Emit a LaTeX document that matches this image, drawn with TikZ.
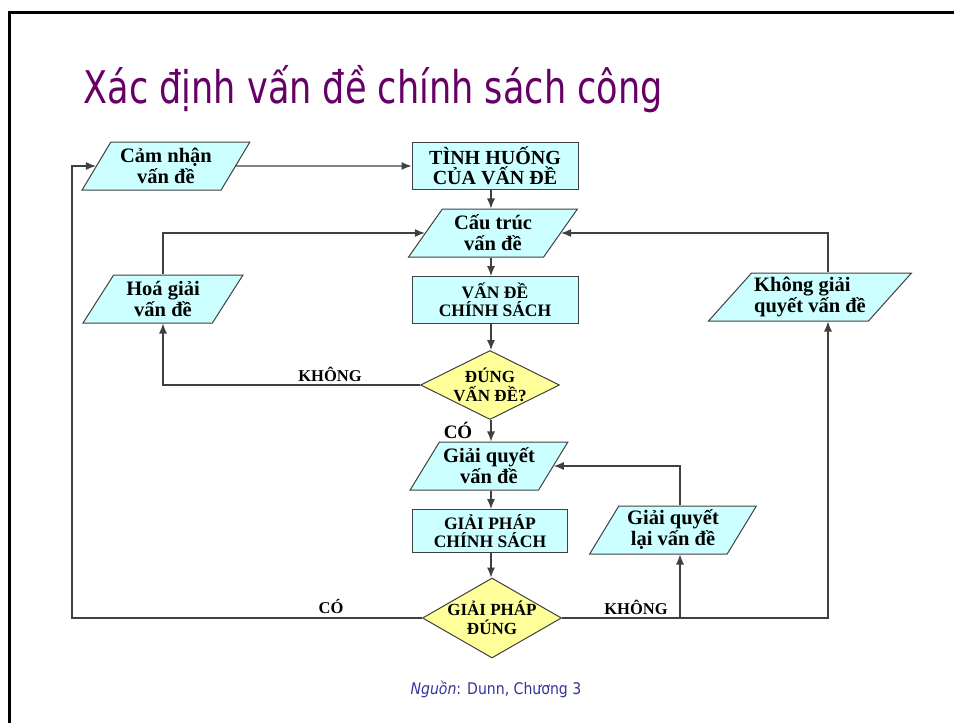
\documentclass[tikz,border=0pt]{standalone}
\usepackage{fontspec}
\setmainfont{Liberation Serif}
\newfontfamily\titlefont[FakeStretch=0.78]{DejaVu Sans}
\newfontfamily\srcfont[FakeStretch=0.88]{DejaVu Sans}
\usetikzlibrary{arrows.meta, shapes.geometric, positioning}
\definecolor{boxcyan}{HTML}{CCFFFF}
\definecolor{diayellow}{HTML}{FFFF99}
\definecolor{titlepurple}{HTML}{660066}
\definecolor{srcblue}{HTML}{333399}
\tikzset{>={Latex[length=10pt,width=8pt]}}

\begin{document}
\begin{tikzpicture}[x=1pt,y=-1pt,
    line/.style={draw=black!75, line width=1.1pt},
    pgram/.style={trapezium, trapezium left angle=57, trapezium right angle=123,
        trapezium stretches=true, draw=black!75, line width=1pt, fill=boxcyan,
        font=\bfseries\fontsize{20.5}{21}\selectfont, align=center,
        inner sep=1pt, minimum height=48pt},
    rectbox/.style={draw=black!75, line width=1pt, fill=boxcyan,
        minimum width=166pt, minimum height=47pt, inner sep=1pt,
        font=\bfseries\fontsize{17.5}{18}\selectfont, align=center},
    decision/.style={diamond, draw=black!75, line width=1pt, fill=diayellow,
        minimum width=139pt, inner sep=0pt},
    dectext/.style={font=\bfseries\fontsize{17}{18.5}\selectfont, align=center},
    answer/.style={font=\bfseries\fontsize{16.5}{18}\selectfont}]
    \useasboundingbox (0,0) rectangle (954,723);
    % slide frame
    \draw[line width=3pt] (954,12) -- (9,12) -- (9,723);
    \node[anchor=base west, text=titlepurple, font=\titlefont\fontsize{45}{50}\selectfont]
        (title) at (80,103) {Xác định vấn đề chính sách công};

    % left column
    \node[pgram, minimum width=168pt] (cam) at (166,166) {Cảm nhận\\vấn đề};
    \node[pgram, minimum width=160pt, trapezium left angle=58, trapezium right angle=122]
        (hoa) at (163,299) {Hoá giải\\vấn đề};

    % middle column
    \coordinate (axis) at (491,0);
    \node[rectbox, font=\bfseries\fontsize{20}{20}\selectfont] (tinh) at (495,166) {TÌNH HUỐNG\\CỦA VẤN ĐỀ};
    \node[pgram, minimum width=169pt, trapezium left angle=55, trapezium right angle=125]
        (cau) at (493,233) {Cấu trúc\\vấn đề};
    \node[rectbox] (vande) at (495,300) {VẤN ĐỀ\\CHÍNH SÁCH};
    \node[decision, minimum height=69pt,
        label={[dectext]center:{ĐÚNG\\VẤN ĐỀ?}}] (dung) at (490,385) {};
    \node[pgram, minimum width=158pt, trapezium left angle=54, trapezium right angle=126]
        (giai) at (489,466) {Giải quyết\\vấn đề};
    \node[rectbox, minimum width=155pt, minimum height=43pt] (phap) at (490,531) {GIẢI PHÁP\\CHÍNH SÁCH};
    \node[decision, minimum height=80pt,
        label={[dectext]center:{GIẢI PHÁP\\ĐÚNG}}] (sol) at (492,618) {};

    % right column
    \node[pgram, minimum width=167pt, trapezium left angle=59, trapezium right angle=121]
        (redo) at (673,530) {Giải quyết\\lại vấn đề};
    \node[pgram, minimum width=203pt, trapezium left angle=45, trapezium right angle=135,
        align=left] (khong) at (810,297) {Không giải\\quyết vấn đề};

    \coordinate (lft) at (72,618);
    \coordinate (rgt) at (828,618);
    \coordinate (brn) at (680,618);

    % connectors
    \draw[line, ->] (cam) -- (tinh);
    \draw[line, ->] (tinh.south -| axis) -- (cau.north -| axis);
    \draw[line, ->] (cau.south -| axis) -- (vande.north -| axis);
    \draw[line, ->] (vande.south -| axis) -- (dung.north -| axis);
    \draw[line, ->] (dung.south -| axis) -- (giai.north -| axis);
    \draw[line, ->] (giai.south -| axis) -- (phap.north -| axis);
    \draw[line, ->] (phap.south -| axis) -- (sol.north -| axis);
    \draw[line, ->] (dung.west) -| (hoa.south);
    \draw[line, ->] (hoa.north) |- (cau.west);
    \draw[line, ->] (sol.west) -- (lft) |- (cam.west);
    \draw[line, ->] (sol.east) -- (rgt) -- (rgt |- khong.south);
    \draw[line, ->] (rgt |- khong.north) |- (cau.east);
    \draw[line, ->] (brn) -- (brn |- redo.south);
    \draw[line, ->] (brn |- redo.north) |- (giai.east);

    \node[answer] (no1) at (330,374) {KHÔNG};
    \node[answer, font=\bfseries\fontsize{19}{19}\selectfont] (yes1) at (458,430) {CÓ};
    \node[answer] (yes2) at (331,606) {CÓ};
    \node[answer] (no2) at (636,607) {KHÔNG};

    \node[anchor=base west, text=srcblue, font=\srcfont\fontsize{16}{17}\selectfont]
        (src) at (407,694) {\textit{Nguồn}: Dunn, Chương 3};
\end{tikzpicture}
\end{document}
